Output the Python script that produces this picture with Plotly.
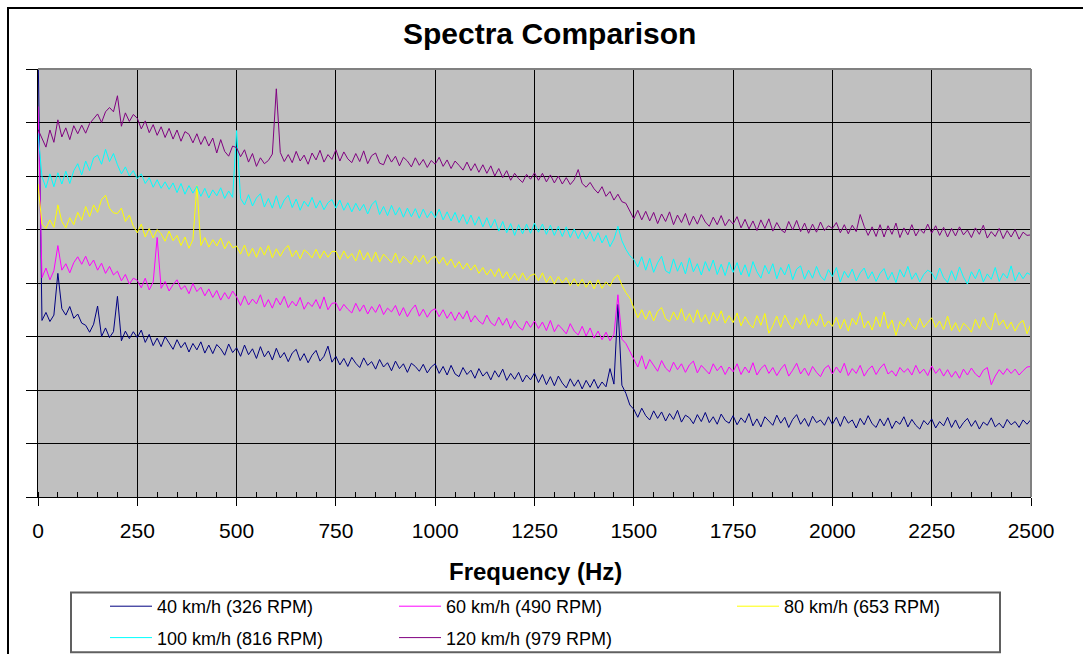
import plotly.graph_objects as go

# Frequency grid (Hz), one sample every 10 Hz
freq_hz = list(range(0, 2501, 10))

# Spectral levels (arbitrary units, 10 per gridline)
speed_40 = [
    85, 33.0, 34.5, 32.8, 34.0, 41.8, 35.2, 34.0, 35.6, 33.4, 34.2, 32.5, 32.1, 30.8, 32.3, 35.7, 30.0, 31.6, 29.8, 30.9, 37.5, 29.2, 31.0, 29.6, 30.9,
    29.8, 31.2, 28.9, 30.4, 28.3, 29.7, 28.1, 30.0, 28.8, 27.6, 29.4, 27.9, 28.9, 27.1, 28.7, 27.5, 29.0, 26.9, 28.4, 26.8, 28.5, 27.7, 26.5, 28.6, 27.0,
    27.9, 26.3, 28.4, 26.6, 27.7, 25.9, 28.1, 26.2, 27.3, 25.6, 27.8, 26.0, 27.0, 25.3, 26.9, 27.6, 25.5, 26.8, 25.1, 26.5, 27.4, 25.4, 26.3, 28.2, 25.2,
    26.3, 24.7, 25.9, 24.4, 26.1, 25.0, 24.2, 26.0, 24.6, 25.3, 23.9, 25.7, 24.3, 25.1, 23.6, 25.4, 24.0, 24.9, 23.3, 25.0, 24.4, 23.5, 24.8, 23.2, 24.3,
    24.9, 23.1, 24.4, 22.8, 24.6, 23.0, 22.5, 24.2, 22.9, 23.7, 22.2, 24.0, 22.6, 23.4, 21.9, 23.6, 22.4, 23.9, 21.8, 23.1, 22.0, 23.3, 21.5, 22.8, 21.9,
    23.2, 21.4, 22.9, 21.0, 22.5, 20.8, 22.6, 21.3, 20.4, 22.1, 20.7, 21.9, 20.2, 21.8, 20.5, 22.0, 20.3, 21.5, 20.6, 24.0, 21.1, 36.0, 20.9, 19.4, 17.2,
    16.4, 14.9, 16.6, 15.2, 14.4, 16.1, 14.7, 15.9, 14.2, 15.6, 14.5, 16.2, 14.0, 15.3, 14.8, 13.7, 15.4, 14.1, 15.8, 13.9, 15.0, 13.6, 15.5, 14.3, 13.8,
    15.2, 13.5, 14.8, 13.9, 15.6, 13.3, 14.6, 13.1, 15.0, 14.2, 13.4, 15.3, 13.8, 14.9, 13.0, 14.5, 15.4, 13.6, 14.7, 13.2, 15.1, 13.9, 14.4, 13.4, 15.0,
    13.6, 14.9, 13.2, 15.1, 13.8, 14.4, 12.9, 14.7, 13.5, 15.2, 13.7, 13.0, 14.6, 13.3, 14.8, 12.8, 14.2, 13.6, 15.0, 13.1, 14.5, 13.4, 12.7, 14.3, 13.5,
    14.6, 12.9, 14.1, 13.3, 14.9, 13.0, 14.4, 12.8, 13.9, 14.7, 13.2, 14.3, 12.7, 14.0, 13.4, 14.8, 13.1, 13.8, 12.9, 14.5, 13.5, 14.1, 13.0, 14.4, 13.6,
    14.5,
]

speed_60 = [
    73.0, 41.0, 42.8, 40.6, 42.3, 47.0, 42.4, 43.6, 41.9, 43.8, 44.9, 43.5, 45.0, 43.2, 44.3, 42.4, 43.7, 41.8, 43.1, 41.5, 42.2, 40.4, 41.6, 39.8, 40.9,
    40.5, 39.1, 40.9, 38.7, 40.2, 48.5, 39.0, 40.3, 38.5, 39.7, 40.6, 38.8, 39.5, 38.0, 39.9, 38.4, 39.2, 37.6, 38.9, 37.3, 38.6, 36.8, 38.2, 37.0, 38.5,
    37.4, 35.8, 37.6, 35.9, 37.0, 36.1, 37.8, 35.5, 36.9, 35.3, 37.2, 35.9, 37.5, 35.4, 36.6, 35.7, 37.3, 35.1, 36.4, 35.6, 36.9, 35.2, 37.4, 35.0, 36.2,
    36.3, 34.8, 36.0, 35.1, 34.4, 36.2, 34.7, 35.9, 34.2, 35.6, 34.5, 36.0, 34.1, 35.3, 34.6, 35.8, 33.9, 35.4, 33.7, 35.0, 35.9, 33.8, 35.1, 33.6, 34.8,
    35.2, 33.7, 35.0, 33.4, 34.6, 33.0, 34.5, 33.3, 34.8, 32.7, 33.9, 32.9, 32.3, 34.0, 32.6, 32.0, 33.6, 32.1, 33.4, 31.5, 33.0, 31.8, 31.2, 32.9, 31.7,
    32.9, 31.5, 32.7, 31.1, 33.0, 30.9, 32.2, 31.4, 30.5, 32.4, 31.0, 30.3, 31.9, 30.1, 31.6, 29.7, 31.0, 29.4, 30.8, 29.2, 30.4, 37.8, 29.5, 28.7, 27.2,
    26.0, 24.3, 26.4, 23.9, 25.7, 24.6, 23.5, 25.5, 24.1, 23.4, 25.2, 23.8, 24.9, 23.3, 24.7, 25.4, 23.2, 24.6, 23.7, 23.0, 24.9, 23.6, 24.5, 22.9, 24.3,
    23.4, 24.9, 22.9, 24.3, 23.2, 25.1, 22.8, 24.0, 24.7, 23.1, 24.2, 22.7, 23.9, 24.8, 22.6, 23.7, 25.0, 23.0, 24.1, 22.7, 24.4, 23.3, 22.5, 24.0, 24.6,
    23.0, 24.3, 23.2, 25.0, 22.7, 24.0, 23.1, 24.6, 22.6, 23.8, 24.5, 22.9, 24.1, 24.9, 23.0, 23.6, 22.6, 24.2, 23.3, 24.0, 22.8, 24.6, 23.1, 23.9, 22.7,
    24.5, 23.1, 24.0, 22.6, 23.8, 22.4, 23.5, 22.2, 23.9, 22.8, 24.1, 23.0, 22.4, 23.7, 24.2, 21.0, 22.6, 23.8, 22.9, 24.0, 23.1, 23.9, 22.8, 23.6, 24.3,
    24.4,
]

speed_80 = [
    58.5, 51.0, 50.2, 51.8, 50.4, 54.6, 51.5, 50.3, 52.2, 50.9, 53.2, 51.7, 54.3, 52.4, 54.6, 53.2, 55.6, 56.4, 54.0, 53.1, 53.0, 54.0, 51.5, 52.7, 50.6,
    49.4, 51.0, 48.6, 50.2, 48.4, 50.0, 49.2, 47.8, 49.7, 47.9, 48.9, 47.0, 48.6, 46.5, 48.1, 58.2, 47.0, 48.5, 46.7, 48.1, 46.9, 48.4, 46.4, 47.8, 46.6,
    46.9, 45.4, 47.1, 45.0, 46.5, 44.8, 46.7, 45.2, 47.0, 44.7, 46.4, 45.0, 46.3, 47.0, 44.9, 46.1, 44.5, 46.2, 45.6, 44.7, 46.3, 44.6, 46.0, 44.8, 45.9,
    45.9, 44.4, 46.0, 44.6, 45.5, 44.1, 46.2, 44.3, 45.7, 44.0, 45.8, 43.9, 45.4, 44.6, 43.8, 45.6, 43.7, 45.0, 44.2, 43.5, 45.1, 43.9, 45.2, 43.6, 44.6,
    45.0, 43.6, 44.8, 43.3, 44.5, 42.9, 44.0, 42.6, 43.7, 42.4, 43.4, 41.8, 42.9, 41.5, 42.6, 41.2, 42.7, 40.9, 42.1, 40.6, 41.8, 40.4, 41.9, 40.5, 41.4,
    41.7, 40.4, 41.9, 40.1, 41.3, 39.8, 41.2, 40.0, 41.0, 39.5, 40.8, 39.4, 40.7, 39.2, 40.4, 38.9, 40.6, 39.0, 40.2, 39.4, 40.9, 41.5, 39.6, 38.2, 37.2,
    35.3, 33.5, 35.0, 33.2, 34.8, 32.9, 34.7, 35.4, 33.3, 32.8, 34.6, 33.1, 35.2, 32.9, 34.3, 32.6, 35.0, 32.7, 34.1, 32.3, 34.5, 32.9, 34.8, 32.5, 33.9,
    32.6, 34.4, 32.0, 33.7, 32.4, 31.6, 33.9, 32.1, 34.3, 30.6, 32.0, 33.8, 31.7, 34.0, 32.5, 31.4, 33.5, 32.2, 34.1, 31.6, 33.3, 32.0, 34.2, 31.8, 32.9,
    31.9, 33.6, 31.4, 33.2, 31.0, 33.4, 32.2, 34.5, 31.6, 32.9, 31.2, 33.7, 31.8, 34.6, 31.5, 33.1, 30.2, 32.8, 31.9, 33.5, 32.0, 31.3, 33.4, 31.7, 32.6,
    33.5, 31.7, 32.9, 31.3, 33.8, 31.1, 32.6, 30.9, 32.5, 31.8, 30.8, 33.2, 31.5, 33.6, 32.0, 31.2, 34.4, 32.1, 33.1, 31.4, 32.7, 31.0, 32.4, 33.0, 30.5,
    32.4,
]

speed_100 = [
    68.0, 59.9, 57.8, 60.4, 58.0, 60.6, 58.5, 60.9, 58.6, 61.0, 62.3, 60.2, 62.8, 61.0, 63.4, 63.9, 62.2, 65.0, 62.7, 64.2, 62.1, 60.4, 61.7, 60.0, 61.0,
    59.5, 60.4, 58.6, 59.7, 57.9, 59.3, 57.7, 58.9, 57.5, 58.7, 56.9, 58.6, 56.6, 58.2, 56.8, 58.1, 56.2, 57.7, 55.9, 57.4, 56.3, 57.8, 55.8, 57.2, 56.0,
    68.5, 55.8, 54.6, 56.5, 54.4, 55.9, 56.7, 54.2, 55.8, 54.0, 56.3, 53.9, 55.5, 56.4, 54.1, 55.7, 53.6, 55.3, 54.3, 56.0, 54.0, 55.4, 53.7, 55.0, 55.6,
    54.0, 55.5, 53.6, 55.0, 53.3, 54.9, 53.5, 54.7, 52.9, 54.6, 55.4, 52.8, 54.3, 52.6, 54.5, 52.7, 54.1, 52.3, 54.0, 52.4, 53.9, 52.1, 53.8, 52.2, 53.4,
    52.2, 53.8, 51.8, 53.3, 51.6, 53.2, 51.3, 52.8, 51.0, 52.7, 50.8, 52.4, 50.5, 52.2, 50.3, 51.9, 49.7, 51.5, 49.4, 51.1, 48.9, 50.9, 49.2, 51.0, 49.3,
    51.2, 49.5, 51.0, 49.1, 50.8, 48.9, 50.6, 48.7, 50.5, 48.5, 50.1, 48.3, 49.9, 48.2, 49.6, 47.8, 49.4, 47.5, 48.9, 46.8, 48.2, 50.6, 47.9, 46.3, 45.1,
    44.4, 43.0, 44.9, 42.4, 44.6, 42.0, 43.8, 45.0, 42.3, 41.8, 44.5, 42.2, 43.9, 41.7, 44.7, 42.1, 43.6, 41.5, 44.0, 42.2, 44.3, 41.6, 43.5, 41.4, 43.9,
    42.0, 43.8, 41.5, 43.4, 41.2, 44.0, 42.1, 40.9, 43.3, 41.7, 43.6, 40.8, 42.9, 41.5, 43.5, 40.6, 42.6, 43.2, 40.7, 42.4, 40.9, 43.1, 41.3, 40.5, 42.5,
    41.2, 42.9, 40.2, 42.2, 41.0, 42.6, 40.4, 41.9, 42.8, 40.8, 42.1, 40.3, 41.8, 42.7, 40.6, 42.0, 40.1, 42.5, 41.1, 43.1, 40.7, 41.9, 40.2, 41.6, 42.4,
    41.9, 40.6, 42.8, 41.0, 40.1, 42.3, 40.5, 43.0, 41.1, 39.8, 42.1, 40.8, 42.6, 40.2, 41.7, 40.7, 42.9, 40.3, 41.8, 40.9, 43.2, 40.4, 42.0, 40.8, 41.9,
    41.5,
]

speed_120 = [
    68.7, 67.2, 65.4, 68.6, 66.3, 70.5, 67.3, 69.0, 66.8, 69.4, 67.9, 69.5, 68.0, 69.8, 70.6, 71.6, 70.0, 72.0, 72.8, 72.0, 75.0, 69.3, 71.8, 70.2, 71.5,
    70.8, 68.8, 70.3, 68.1, 69.6, 67.6, 69.2, 67.2, 68.9, 66.9, 68.6, 66.5, 68.3, 67.8, 66.2, 67.9, 65.9, 67.4, 65.6, 67.1, 64.3, 66.8, 64.6, 63.7, 65.6,
    65.3, 63.6, 64.9, 62.6, 64.2, 61.8, 63.4, 62.3, 62.9, 64.1, 76.3, 64.4, 62.7, 64.0, 62.5, 64.6, 62.8, 63.9, 62.2, 64.3, 63.0, 64.8, 62.6, 64.0, 63.1,
    64.9, 62.8, 64.5, 63.2, 62.5, 64.2, 62.7, 64.7, 62.3, 63.8, 64.3, 62.4, 62.1, 64.0, 62.6, 63.7, 61.9, 63.5, 62.8, 61.7, 63.4, 62.0, 63.1, 61.6, 62.9,
    62.2, 63.5, 61.8, 63.0, 61.4, 62.8, 62.0, 61.1, 62.6, 61.0, 62.3, 60.7, 62.1, 60.5, 61.9, 60.0, 61.4, 59.7, 61.0, 59.2, 60.5, 59.5, 58.8, 60.3, 59.4,
    60.6, 59.2, 60.5, 58.9, 60.2, 58.7, 60.0, 58.5, 59.7, 58.4, 59.3, 61.2, 58.6, 57.9, 58.8, 57.6, 56.8, 58.0, 56.2, 57.1, 55.5, 56.6, 55.2, 54.9, 53.3,
    52.0, 53.6, 51.8, 53.4, 51.6, 53.2, 51.1, 52.9, 51.5, 53.3, 50.9, 52.7, 51.3, 53.0, 50.8, 52.5, 51.0, 52.8, 51.4, 50.6, 52.3, 50.9, 52.6, 50.7, 51.9,
    51.0, 52.4, 50.3, 51.9, 50.1, 51.6, 49.8, 51.8, 50.2, 52.0, 49.7, 51.3, 50.0, 49.4, 51.5, 49.9, 51.7, 49.6, 51.2, 49.3, 51.0, 49.5, 51.4, 49.8, 50.7,
    50.2, 51.3, 49.4, 50.9, 49.2, 50.8, 49.6, 52.8, 50.6, 48.9, 50.5, 48.7, 50.9, 48.6, 50.7, 49.1, 51.2, 48.5, 50.3, 49.0, 50.9, 48.8, 50.1, 49.3, 51.0,
    49.3, 50.7, 48.9, 50.4, 48.6, 50.2, 48.8, 50.5, 49.0, 49.9, 48.5, 50.3, 49.1, 50.8, 48.4, 49.6, 48.7, 50.2, 48.3, 49.8, 48.6, 50.0, 48.2, 49.5, 48.9,
    49.0,
]

series_names = ["40 km/h (326 RPM)", "60 km/h (490 RPM)", "80 km/h (653 RPM)",
                "100 km/h (816 RPM)", "120 km/h (979 RPM)"]
series_values = [speed_40, speed_60, speed_80, speed_100, speed_120]
series_colors = ["#000080", "#FF00FF", "#FFFF00", "#00FFFF", "#800080"]
# legend column of each series (3 columns, 2 rows, filled row by row)
series_legend = ["legend", "legend2", "legend3", "legend", "legend2"]

x_ticks = [0, 250, 500, 750, 1000, 1250, 1500, 1750, 2000, 2250, 2500]

for s in series_values:
    assert len(s) == len(freq_hz), len(s)

FONT = "Arial, 'Liberation Sans', sans-serif"
W, H = 1083, 654

# Layout helpers (pixel -> paper conversion for the fixed plot box)
PL, PR, PT, PB = 38, 1031, 69, 497.5
def px_x(px):
    return (px - PL) / (PR - PL)
def px_y(py):
    return (PB - py) / (PB - PT)
def cont_y(py):
    return (H - py) / H

fig = go.Figure()
for name, vals, col, lg in zip(series_names, series_values, series_colors, series_legend):
    fig.add_trace(go.Scatter(
        x=freq_hz, y=vals, mode="lines", name=name,
        line=dict(color=col, width=1), legend=lg, legendgroup=name,
    ))

legend_common = dict(
    orientation="v", xanchor="left", yanchor="top",
    xref="paper", yref="container",
    bgcolor="rgba(0,0,0,0)", borderwidth=0,
    font=dict(family=FONT, size=18, color="black"),
    tracegroupgap=5, itemwidth=42,
)

fig.update_layout(
    width=W, height=H,
    margin=dict(l=PL, r=W - PR, t=PT, b=H - PB),
    paper_bgcolor="white",
    plot_bgcolor="#C0C0C0",
    font=dict(family=FONT, color="black"),
    showlegend=True,
    legend=dict(x=px_x(105), y=cont_y(588), **legend_common),
    legend2=dict(x=px_x(394), y=cont_y(588), **legend_common),
    legend3=dict(x=px_x(732), y=cont_y(588), **legend_common),
    xaxis=dict(
        range=[0, 2500], tickvals=x_ticks, ticktext=[str(t) for t in x_ticks],
        ticks="outside", ticklen=8, tickcolor="black", tickwidth=1,
        tickfont=dict(family=FONT, size=21, color="black"),
        ticklabelstandoff=7,
        showgrid=True, gridcolor="black", gridwidth=1,
        showline=True, linecolor="black", linewidth=1,
        zeroline=False, automargin=False,
        minor=dict(dtick=50, tick0=0, ticks="inside", ticklen=5,
                   tickcolor="black", showgrid=False),
    ),
    yaxis=dict(
        range=[0, 80], dtick=10, tick0=0,
        ticks="outside", ticklen=11, tickcolor="black",
        showticklabels=False,
        showgrid=True, gridcolor="black", gridwidth=1,
        showline=True, linecolor="black", linewidth=1,
        zeroline=False, automargin=False,
    ),
    annotations=[
        dict(text="<b>Spectra Comparison</b>", xref="paper", yref="paper",
             x=px_x(549), y=px_y(33), xanchor="center", yanchor="middle",
             showarrow=False, font=dict(family=FONT, size=30, color="black")),
        dict(text="<b>Frequency (Hz)</b>", xref="paper", yref="paper",
             x=px_x(535.5), y=px_y(572), xanchor="center", yanchor="middle",
             showarrow=False, font=dict(family=FONT, size=24, color="black")),
    ],
    shapes=[
        # plot-area border (top and right) in grey
        dict(type="line", xref="paper", yref="paper", x0=0, x1=1, y0=1, y1=1,
             line=dict(color="#808080", width=2), layer="above"),
        dict(type="line", xref="paper", yref="paper", x0=1, x1=1, y0=0, y1=1,
             line=dict(color="#808080", width=2), layer="above"),
        # legend frame
        dict(type="rect", xref="paper", yref="paper",
             x0=px_x(71), x1=px_x(1000), y0=px_y(653), y1=px_y(593),
             line=dict(color="#606060", width=2), fillcolor="rgba(0,0,0,0)"),
        # outer chart frame
        dict(type="rect", xref="paper", yref="paper",
             x0=px_x(8), x1=px_x(1120), y0=px_y(720), y1=px_y(8),
             line=dict(color="black", width=2), fillcolor="rgba(0,0,0,0)"),
    ],
)

fig.write_html("out.html")
